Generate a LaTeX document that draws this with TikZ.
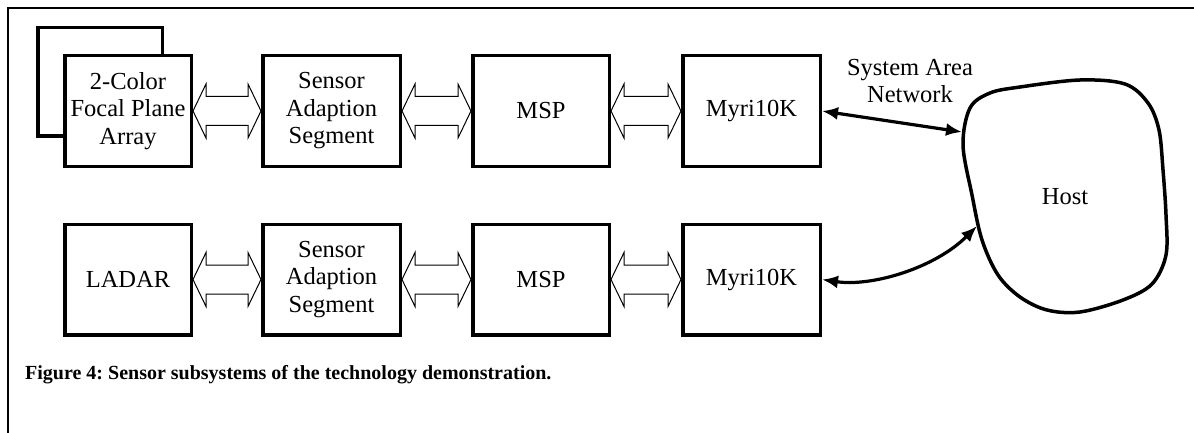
\documentclass[tikz,border=0pt]{standalone}
\usepackage{fontspec}
\setmainfont{Liberation Serif}
\usetikzlibrary{arrows.meta,calc}
\frenchspacing
\tikzset{
  blk/.style={draw, line width=3.5pt, minimum width=137.5pt, minimum height=110.5pt,
    align=center, inner sep=0pt, fill=white, font=\fontsize{24.5}{27.5}\selectfont},
  hollow/.style={draw, line width=1pt, fill=white, line join=miter},
  link/.style={line width=3.2pt, {Latex[length=16pt,width=13pt]}-{Latex[length=16pt,width=13pt]}},
  lbl/.style={font=\fontsize{24.5}{27.5}\selectfont, align=center, inner sep=0pt},
  frame/.style={line width=2.2pt},
  blob/.style={line width=3.5pt},
}
\newcommand\hollowarrow[2]{%
  \draw[hollow] (#1) -- ($(#1)+(13,-27)$) -- ($(#1)+(13,-14.5)$) -- ($(#2)+(-13,-14.5)$)
    -- ($(#2)+(-13,-27)$) -- (#2) -- ($(#2)+(-13,27)$) -- ($(#2)+(-13,14.5)$)
    -- ($(#1)+(13,14.5)$) -- ($(#1)+(13,27)$) -- cycle;}
\begin{document}
\begin{tikzpicture}[x=1pt,y=-1pt]
\useasboundingbox (0,0) rectangle (1194,433);
% frame
\coordinate (ftl) at (8,8);
\coordinate (ftr) at (1194,8);
\coordinate (fbl) at (8,433);
\draw[frame] (ftr) -- (ftl) -- (fbl);
% back box
\node[blk, minimum width=124.5pt, minimum height=108.5pt] (back) at (100,82) {};
% row 1
\node[blk, minimum width=126.5pt] (a1) at (128,111) {2-Color\\Focal Plane\\Array};
\node[blk] (a2) at (331.5,111) {Sensor\\Adaption\\Segment};
\node[blk, minimum width=136.5pt] (a3) at (541,111) {MSP};
\node[blk] (a4) at (751.5,111) {Myri10K};
% row 2
\node[blk, minimum width=126.5pt] (b1) at (128,279.5) {LADAR};
\node[blk] (b2) at (331.5,279.5) {Sensor\\Adaption\\Segment};
\node[blk, minimum width=136.5pt] (b3) at (541,279.5) {MSP};
\node[blk] (b4) at (751.5,279.5) {Myri10K};
% hollow double arrows
\hollowarrow{a1.east}{a2.west}
\hollowarrow{a2.east}{a3.west}
\hollowarrow{a3.east}{a4.west}
\hollowarrow{b1.east}{b2.west}
\hollowarrow{b2.east}{b3.west}
\hollowarrow{b3.east}{b4.west}
% host blob
\draw[blob] plot[smooth cycle, tension=0.55] coordinates {
  (1020,87) (1080,80) (1125,84) (1148,103) (1159,130) (1163,170) (1166,215)
  (1166,255) (1152,284) (1123,300) (1080,312) (1047,310) (1020,297) (998,275)
  (982,240) (972,195) (963,145) (970,108) (990,93)};
\node[lbl] (host) at (1065,197) {Host};
\coordinate (ha) at (962,132);
\coordinate (hb) at (977,226);
% links
\draw[link] (a4.east) -- (ha);
\draw[link] (b4.east) .. controls (872,287) and (935,268) .. (hb);
\node[lbl] (san) at (910,81) {System Area\\Network};
% caption
\node[anchor=base west, inner sep=0pt, font=\fontsize{20}{24}\selectfont\bfseries] (cap) at (25,379)
  {Figure 4: Sensor subsystems of the technology demonstration.};
\end{tikzpicture}
\end{document}
